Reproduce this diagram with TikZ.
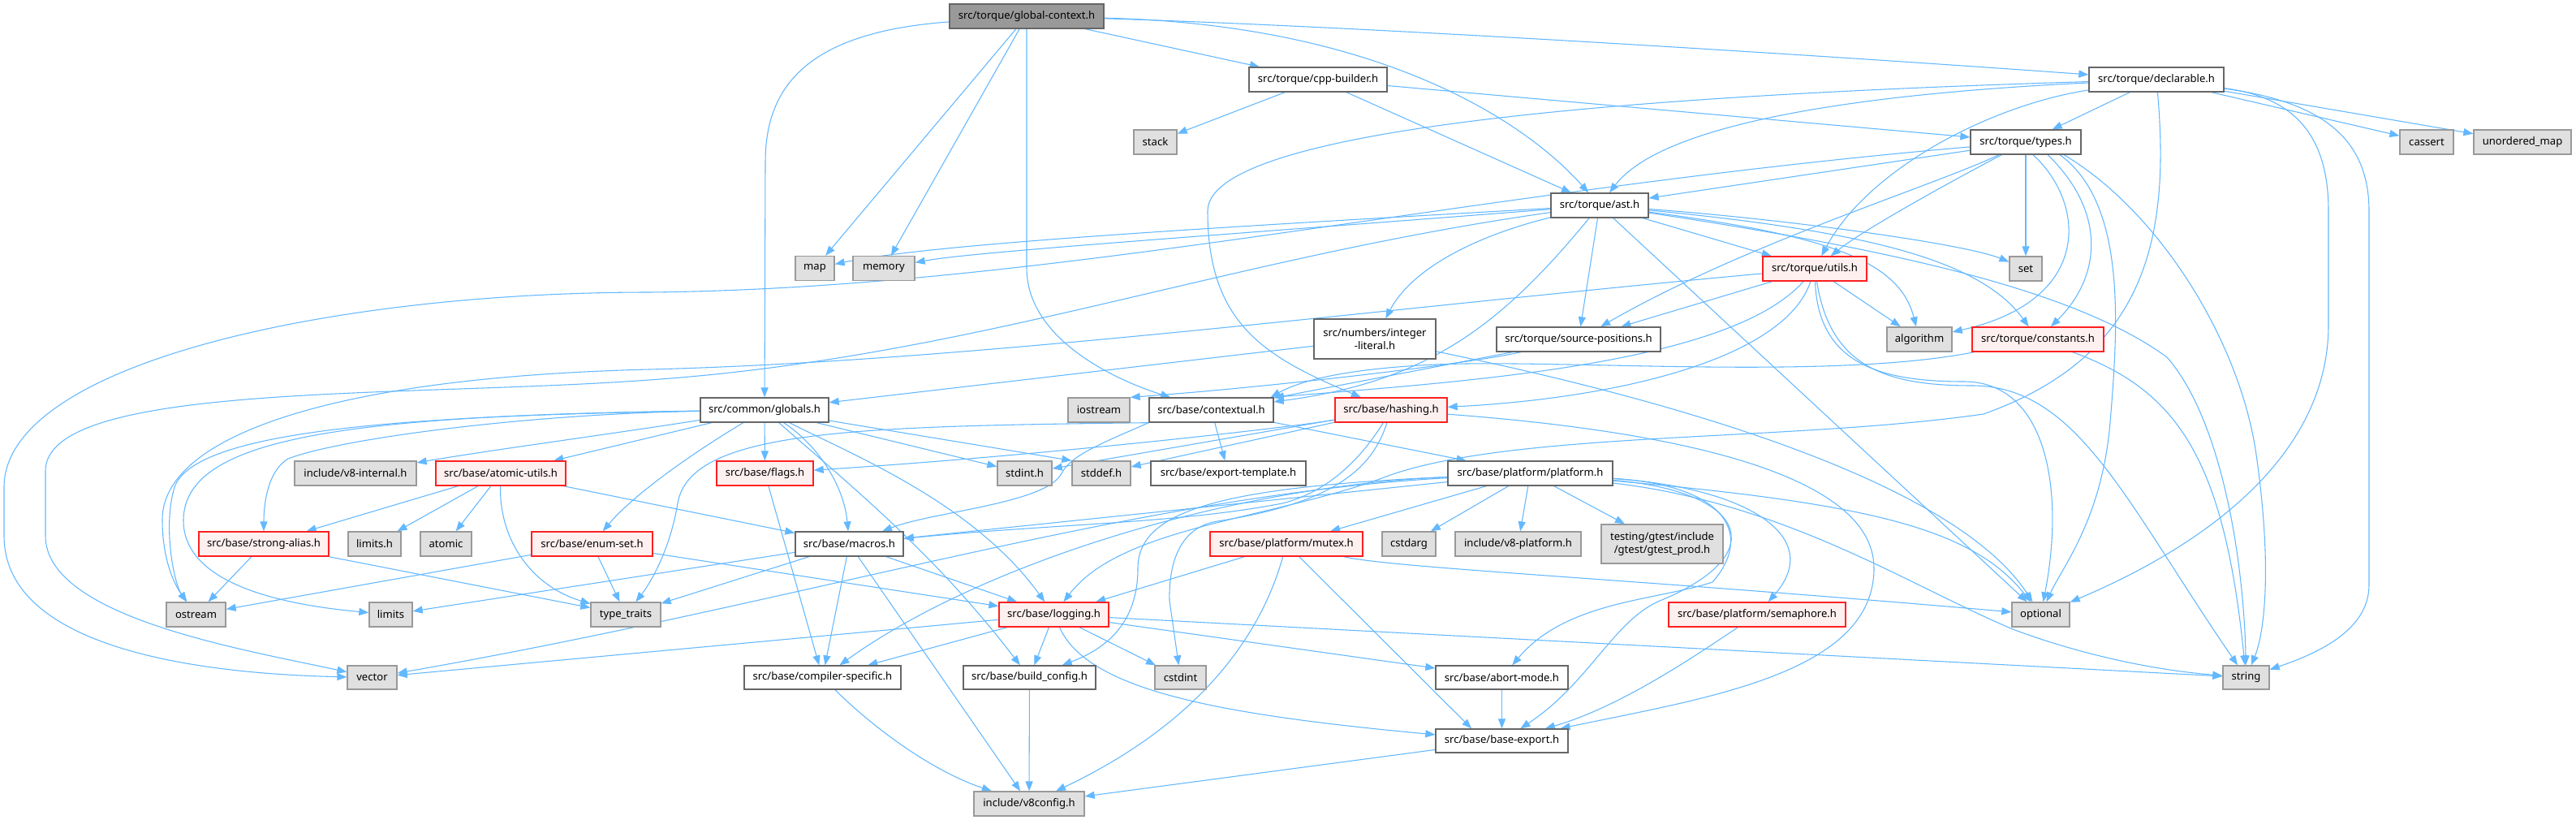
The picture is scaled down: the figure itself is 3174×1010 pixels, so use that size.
\documentclass[tikz,border=0pt]{standalone}
\usepackage{fontspec}
\setmainfont{Noto Sans}
\usetikzlibrary{arrows.meta}
\definecolor{edgec}{HTML}{63B8FF}
\definecolor{sysfill}{HTML}{E0E0E0}
\definecolor{sysdraw}{HTML}{999999}
\definecolor{nodedraw}{HTML}{666666}
\definecolor{rootfill}{HTML}{999999}
\definecolor{redfill}{HTML}{FFF0F0}
\definecolor{reddraw}{HTML}{FF2020}
\pgfdeclarelayer{back}\pgfdeclarelayer{edges}
\pgfsetlayers{back,edges,main}
\begin{document}
\begin{tikzpicture}[x=0.75pt,y=-0.75pt,
  every node/.style={font=\fontsize{9.8pt}{11.5pt}\selectfont, inner sep=0pt, minimum height=22.5pt, rectangle, line width=1pt, align=center},
  bw/.style={minimum width=#1*0.75pt},
  bh/.style={minimum height=#1*0.75pt},
  wn/.style={draw=nodedraw, fill=white},
  sn/.style={draw=sysdraw, fill=sysfill},
  rn/.style={draw=reddraw, fill=redfill},
  gn/.style={draw=nodedraw, fill=rootfill},
  edg/.style={draw=edgec, line width=0.8pt, line cap=round, -{Triangle[length=9pt,width=6.8pt]}},
]
\begin{pgfonlayer}{back}
\fill[white] (0,0) rectangle (3174,1010);
\end{pgfonlayer}
\useasboundingbox (0,0) rectangle (3174,1010);

% ---------- nodes ----------
\node[gn,bw=190] (GC) at (1265,20) {src/torque/global-context.h};
\node[wn,bw=170] (CB) at (1624,98) {src/torque/cpp-builder.h};
\node[wn,bw=166] (DE) at (2657,98) {src/torque/declarable.h};
\node[wn,bw=136] (TY) at (2496,175) {src/torque/types.h};
\node[sn,bw=53] (stack) at (1423.5,175) {stack};
\node[sn,bw=66] (cassert) at (2990,175) {cassert};
\node[sn,bw=120] (umap) at (3108,175) {unordered\_map};
\node[wn,bw=120] (AST) at (1971,253) {src/torque/ast.h};
\node[sn,bw=48] (map) at (1004,330.5) {map};
\node[sn,bw=76] (memory) at (1089,330.5) {memory};
\node[rn,bw=128] (UT) at (2236,331) {src/torque/utils.h};
\node[sn,bw=40] (set) at (2496,331) {set};
\node[wn,bw=150,bh=49] (IL) at (1694,417.5) {src/numbers/integer\\-literal.h};
\node[wn,bw=202] (SP) at (1945,418) {src/torque/source-positions.h};
\node[sn,bw=80] (algorithm) at (2365,418) {algorithm};
\node[rn,bw=162] (CO) at (2511,418) {src/torque/constants.h};
\node[wn,bw=158] (GL) at (942,505) {src/common/globals.h};
\node[sn,bw=76] (iostream) at (1354,505) {iostream};
\node[wn,bw=153] (CTX) at (1492.5,505) {src/base/contextual.h};
\node[rn,bw=138] (HA) at (1714,505) {src/base/hashing.h};
\node[sn,bw=150] (v8int) at (438,583) {include/v8-internal.h};
\node[rn,bw=160] (AU) at (617,583) {src/base/atomic-utils.h};
\node[rn,bw=119] (FL) at (942.5,583) {src/base/flags.h};
\node[sn,bw=67] (stdint) at (1262.5,583) {stdint.h};
\node[sn,bw=72] (stddef) at (1357,583) {stddef.h};
\node[wn,bw=191] (ET) at (1513.5,583) {src/base/export-template.h};
\node[wn,bw=203] (PL) at (1885.5,583) {src/base/platform/platform.h};
\node[rn,bw=160] (SA) at (325,670) {src/base/strong-alias.h};
\node[sn,bw=65] (limitsh) at (461.5,670) {limits.h};
\node[sn,bw=63] (atomic) at (549.5,670) {atomic};
\node[rn,bw=149] (ES) at (729.5,670) {src/base/enum-set.h};
\node[wn,bw=133] (MA) at (1046.5,670) {src/base/macros.h};
\node[rn,bw=188] (MU) at (1585,670) {src/base/platform/mutex.h};
\node[sn,bw=66] (cstdarg) at (1736,670) {cstdarg};
\node[sn,bw=155] (v8plat) at (1870.5,670) {include/v8-platform.h};
\node[sn,bw=150,bh=48] (gtest) at (2048,670) {testing/gtest/include\\/gtest/gtest\_prod.h};
\node[sn,bw=73] (ostream) at (241.5,757) {ostream};
\node[sn,bw=53] (limits) at (481.5,757) {limits};
\node[sn,bw=86] (tt) at (771,757) {type\_traits};
\node[rn,bw=135] (LO) at (1298.5,757) {src/base/logging.h};
\node[rn,bw=218] (SE) at (2165,757) {src/base/platform/semaphore.h};
\node[sn,bw=71] (optional) at (2514.5,757) {optional};
\node[sn,bw=61,bh=29] (vector) at (458.5,834.5) {vector};
\node[wn,bw=193,bh=29] (CS) at (1013.5,834.5) {src/base/compiler-specific.h};
\node[wn,bw=163,bh=29] (BC) at (1268.5,834.5) {src/base/build\_config.h};
\node[sn,bw=63,bh=29] (cstdint) at (1454.5,834.5) {cstdint};
\node[wn,bw=163,bh=29] (AM) at (1850.5,834.5) {src/base/abort-mode.h};
\node[sn,bw=57,bh=29] (string) at (2767.5,834.5) {string};
\node[wn,bw=163,bh=29] (BE) at (1850.5,912.5) {src/base/base-export.h};
\node[sn,bw=136] (V8C) at (1268,990) {include/v8config.h};

% ---------- edges ----------
\begin{pgfonlayer}{edges}
% global-context.h
\draw[edg] (GC) -- (map);
\draw[edg] (GC) -- (memory);
\draw[edg] (GC) .. controls (990,40) and (943,110) .. (943,200) -- (GL);
\draw[edg] (GC) -- (1265,330) .. controls (1265,420) and (1380,470) .. (CTX);
\draw[edg] (GC) -- (CB);
\draw[edg] (GC) .. controls (1700,33) and (2300,72) .. (DE);
\draw[edg] (GC) .. controls (1700,30) and (1880,150) .. (AST);
% cpp-builder.h
\draw[edg] (CB) -- (stack);
\draw[edg] (CB) -- (AST);
\draw[edg] (CB) -- (TY);
% declarable.h
\draw[edg] (DE) -- (TY);
\draw[edg] (DE) .. controls (2300,115) and (2050,150) .. (AST);
\draw[edg] (DE) .. controls (2450,130) and (2300,210) .. (UT);
\draw[edg] (DE) .. controls (2100,115) and (1488,150) .. (1488,260) .. controls (1488,400) and (1560,440) .. (HA);
\draw[edg] (DE) -- (cassert);
\draw[edg] (DE) -- (umap);
\draw[edg] (DE) .. controls (2860,125) and (2919,170) .. (2919,260) -- (2919,720) .. controls (2919,770) and (2870,800) .. (string);
\draw[edg] (DE) .. controls (2830,120) and (2869,170) .. (2869,260) -- (2869,400) .. controls (2869,560) and (2720,670) .. (optional);
\draw[edg] (DE) .. controls (2675,300) and (2640,440) .. (2444,510) .. controls (2200,545) and (1850,530) .. (1700,590) .. controls (1560,640) and (1380,650) .. (LO);
% types.h
\draw[edg] (TY) -- (AST);
\draw[edg] (TY) .. controls (1800,235) and (1300,355) .. (800,360) .. controls (400,360) and (5,450) .. (5,600) -- (5,660) .. controls (5,800) and (250,830) .. (vector);
\draw[edg] (TY) .. controls (2420,215) and (2300,280) .. (UT);
\draw[edg] (TY) .. controls (2380,230) and (2150,300) .. (SP);
\draw[edg] (TY) -- (set);
\draw[edg] ([xshift=6.75pt]TY.south) .. controls (2570,250) and (2580,370) .. (algorithm);
\draw[edg] ([xshift=20.25pt]TY.south) .. controls (2595,260) and (2590,340) .. (CO);
\draw[edg] ([xshift=31.5pt]TY.south) .. controls (2620,250) and (2610,400) .. (2600,520) .. controls (2590,640) and (2540,700) .. (optional);
\draw[edg] ([xshift=35.25pt]TY.south) .. controls (2660,260) and (2760,420) .. (2780,560) .. controls (2800,700) and (2790,780) .. (string);
% ast.h
\draw[edg] (AST) .. controls (1500,280) and (1150,300) .. (map);
\draw[edg] (AST) .. controls (1500,290) and (1200,310) .. (memory);
\draw[edg] (AST) .. controls (1500,320) and (1200,440) .. (800,468) .. controls (500,490) and (56,470) .. (56,580) -- (56,660) .. controls (56,760) and (300,800) .. (vector);
\draw[edg] (AST) .. controls (1850,400) and (1760,470) .. (CTX);
\draw[edg] (AST) .. controls (1820,290) and (1740,330) .. (IL);
\draw[edg] (AST) -- (SP);
\draw[edg] (AST) -- (UT);
\draw[edg] (AST) .. controls (2200,270) and (2420,300) .. (set);
\draw[edg] (AST) .. controls (2250,290) and (2340,320) .. (algorithm);
\draw[edg] (AST) .. controls (2300,285) and (2440,320) .. (CO);
\draw[edg] (AST) -- (optional);
\draw[edg] (AST) .. controls (2350,310) and (2560,360) .. (2670,440) .. controls (2740,520) and (2765,700) .. (string);
% utils.h
\draw[edg] (UT) -- (SP);
\draw[edg] (UT) .. controls (2130,450) and (1800,470) .. (CTX.north east);
\draw[edg] (UT) .. controls (2200,440) and (2000,490) .. (HA);
\draw[edg] (UT) .. controls (2240,450) and (2320,470) .. (2420,470) .. controls (2520,470) and (2545,600) .. (optional);
\draw[edg] (UT) .. controls (2255,450) and (2320,475) .. (2430,475) .. controls (2560,475) and (2620,620) .. (string);
\draw[edg] (UT) -- (algorithm);
\draw[edg] (UT) .. controls (1700,380) and (1200,445) .. (800,455) .. controls (400,465) and (200,540) .. (200,640) .. controls (200,690) and (215,720) .. (ostream);
% integer-literal.h
\draw[edg] (IL) -- (GL);
\draw[edg] (IL) .. controls (2000,480) and (2400,580) .. (optional);
% source-positions.h
\draw[edg] (SP) .. controls (1800,450) and (1550,478) .. (iostream.north east);
\draw[edg] (SP) -- (CTX);
% constants.h
\draw[edg] (CO) .. controls (2680,480) and (2740,560) .. (string);
\draw[edg] (CO) .. controls (2250,470) and (1900,440) .. (1750,450) .. controls (1650,456) and (1600,470) .. ([xshift=-3pt]CTX.north east);
% hashing.h
\draw[edg] (HA) .. controls (2050,530) and (2309,580) .. (2309,700) .. controls (2309,830) and (2100,860) .. (BE);
\draw[edg] (HA) -- (stddef);
\draw[edg] (HA) -- (stdint);
\draw[edg] (HA) .. controls (1600,525) and (1300,560) .. (FL);
\draw[edg] (HA) .. controls (1680,560) and (1640,605) .. (1580,620) .. controls (1450,645) and (1300,645) .. (MA);
\draw[edg] (HA) .. controls (1690,580) and (1640,620) .. (1500,642) .. controls (1450,650) and (1440,700) .. (1441,740) -- (cstdint);
% contextual.h
\draw[edg] (CTX) -- (ET);
\draw[edg] (CTX.south west) .. controls (1360,545) and (1320,560) .. (1308,583) .. controls (1290,620) and (1150,630) .. (MA);
\draw[edg] (CTX) -- (PL);
\draw[edg] (CTX.south west) .. controls (1050,525) and (850,530) .. (835,620) .. controls (825,680) and (800,720) .. (tt);
% globals.h
\draw[edg] (GL) .. controls (750,535) and (600,555) .. (v8int);
\draw[edg] (GL) -- (AU);
\draw[edg] (GL) .. controls (650,510) and (420,540) .. (355,565) .. controls (330,580) and (325,620) .. (SA);
\draw[edg] (GL) .. controls (500,512) and (240,530) .. (215,600) .. controls (200,650) and (215,720) .. (ostream);
\draw[edg] (GL) .. controls (420,512) and (228,540) .. (226,640) .. controls (225,720) and (350,745) .. (limits);
\draw[edg] (GL) .. controls (850,560) and (780,610) .. (ES);
\draw[edg] (GL) -- (FL);
\draw[edg] (GL) -- (stdint);
\draw[edg] (GL) -- (stddef.north west);
\draw[edg] (GL) .. controls (1010,550) and (1040,600) .. (MA);
\draw[edg] (GL) .. controls (1050,560) and (1200,620) .. (LO);
\draw[edg] (GL) .. controls (1050,600) and (1150,680) .. (BC);
% atomic-utils.h
\draw[edg] (AU) -- (SA);
\draw[edg] (AU) -- (limitsh);
\draw[edg] (AU) -- (atomic);
\draw[edg] (AU) .. controls (615,660) and (650,720) .. (tt);
\draw[edg] (AU) -- (MA);
% strong-alias.h
\draw[edg] (SA) -- (ostream);
\draw[edg] (SA) -- (tt);
% enum-set.h
\draw[edg] (ES) -- (ostream);
\draw[edg] (ES) -- (tt);
\draw[edg] (ES) -- (LO);
% flags.h
\draw[edg] (FL) -- (CS);
% macros.h
\draw[edg] (MA) -- (tt);
\draw[edg] (MA) -- (limits);
\draw[edg] (MA) -- (CS);
\draw[edg] (MA) -- (V8C);
\draw[edg] (MA) -- (LO);
% logging.h
\draw[edg] (LO) -- (vector);
\draw[edg] (LO) -- (CS);
\draw[edg] (LO) -- (BC);
\draw[edg] (LO) -- (cstdint);
\draw[edg] (LO) -- (AM);
\draw[edg] (LO) .. controls (1340,850) and (1500,880) .. (BE);
\draw[edg] (LO) -- (string);
% platform.h
\draw[edg] (PL) -- (MU);
\draw[edg] (PL) -- (cstdarg);
\draw[edg] (PL) -- (v8plat);
\draw[edg] (PL) -- (gtest);
\draw[edg] (PL) .. controls (2150,600) and (2250,660) .. (SE);
\draw[edg] (PL) .. controls (2130,598) and (2160,660) .. (2110,717) .. controls (2040,740) and (1930,740) .. (AM);
\draw[edg] (PL) .. controls (2150,605) and (2185,680) .. (2050,738) .. controls (1990,760) and (1960,840) .. (BE);
\draw[edg] (PL) .. controls (2300,620) and (2430,650) .. (optional);
\draw[edg] (PL) .. controls (2200,620) and (2350,720) .. (2480,775) .. controls (2560,805) and (2650,825) .. (string);
\draw[edg] (PL) .. controls (1400,610) and (1000,740) .. (vector);
\draw[edg] (PL) .. controls (1500,600) and (1200,700) .. (CS);
\draw[edg] (PL) .. controls (1500,600) and (1402,630) .. (1402,700) .. controls (1402,770) and (1360,800) .. (BC);
\draw[edg] (PL) -- (MA);
% mutex.h
\draw[edg] (MU) -- (LO);
\draw[edg] (MU) -- ([xshift=-28pt]BE.north);
\draw[edg] (MU) .. controls (1560,760) and (1500,880) .. (V8C);
\draw[edg] (MU) .. controls (1720,700) and (2000,712) .. (optional);
% semaphore.h
\draw[edg] (SE) .. controls (2100,800) and (2000,870) .. (BE);
% the rest
\draw[edg] (AM) -- (BE);
\draw[edg] (BE) -- (V8C);
\draw[edg] (BC) -- (V8C);
\draw[edg] (CS) .. controls (1080,900) and (1150,950) .. (V8C);
\end{pgfonlayer}
\end{tikzpicture}
\end{document}
